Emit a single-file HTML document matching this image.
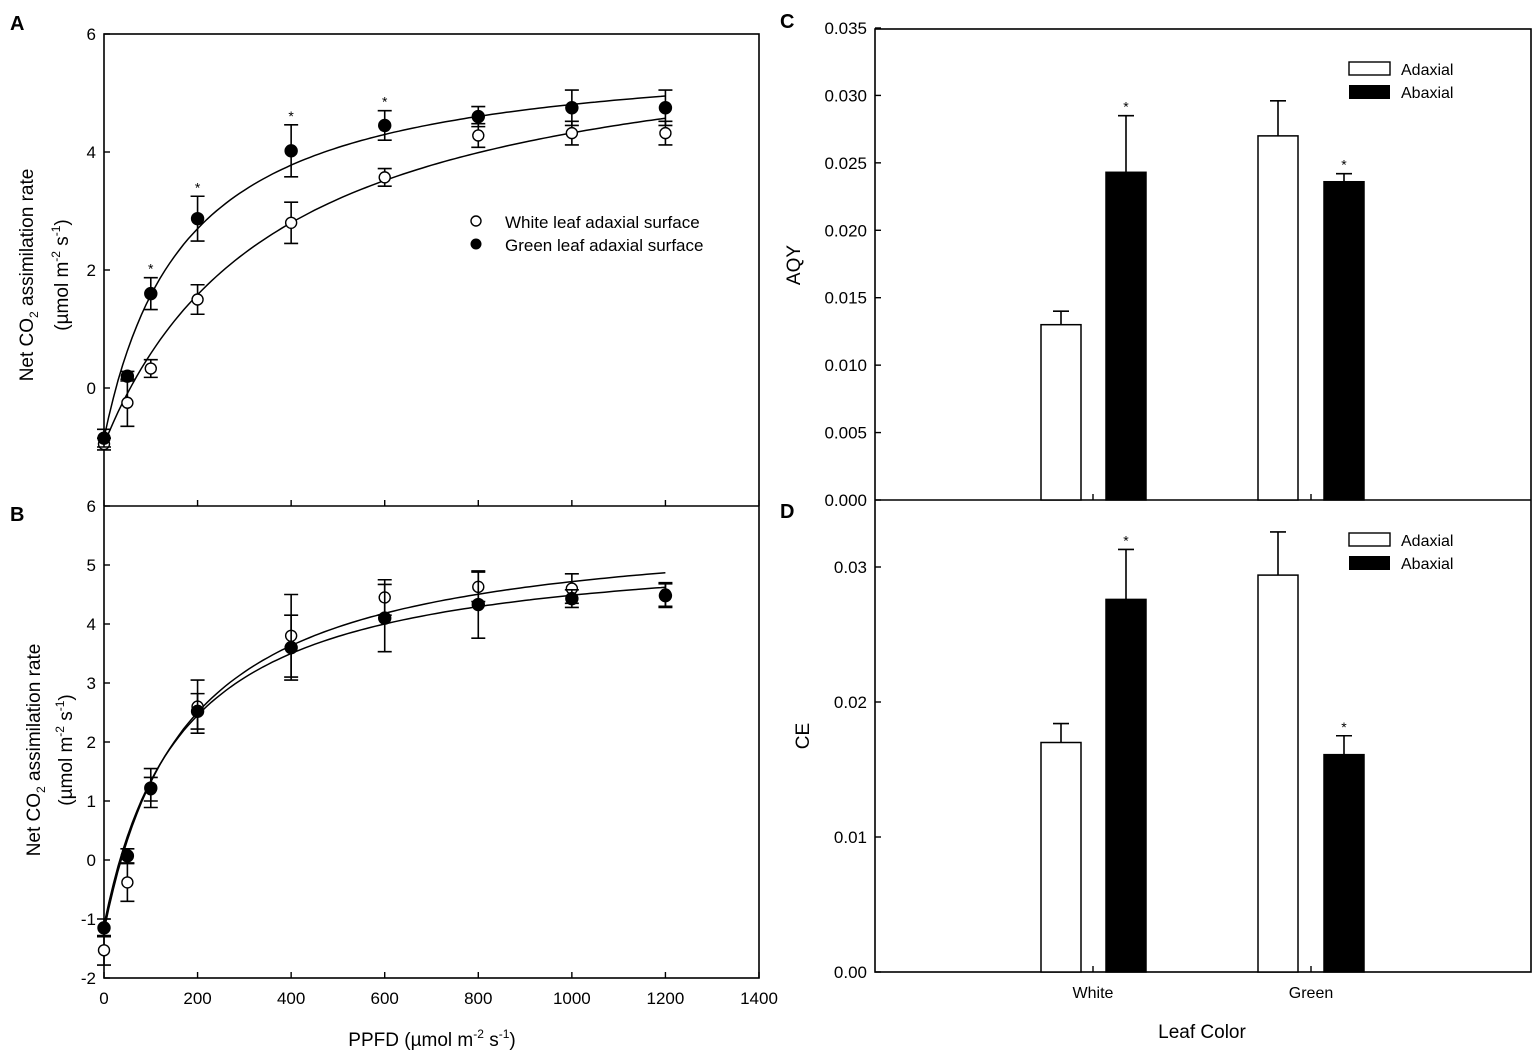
<!DOCTYPE html>
<html><head><meta charset="utf-8"><style>
html,body{margin:0;padding:0;background:#fff}
svg{display:block}
text{font-family:"Liberation Sans",Arial,sans-serif;fill:#000}
</style></head><body>
<svg id="s" width="1535" height="1054" viewBox="0 0 1535 1054" xmlns="http://www.w3.org/2000/svg">
<rect width="1535" height="1054" fill="#fff"/>
<g stroke="#000" stroke-width="1.6" fill="none">
<rect x="104" y="34" width="655" height="944"/>
<line x1="104" y1="506" x2="759" y2="506"/>
<rect x="875" y="29" width="656" height="943"/>
<line x1="875" y1="500" x2="1531" y2="500"/>
</g>
<g font-weight="bold" font-size="20">
<text x="10" y="30">A</text><text x="10" y="521">B</text>
<text x="780" y="28">C</text><text x="780" y="518">D</text>
</g>
<g id="dyn"></g>
<text transform="translate(33,275) rotate(-90)" font-size="19" text-anchor="middle">Net CO<tspan font-size="12" dy="5">2</tspan><tspan dy="-5"> assimilation rate</tspan></text>
<text transform="translate(68,275) rotate(-90)" font-size="19" text-anchor="middle">(µmol m<tspan font-size="12" dy="-8">-2</tspan><tspan dy="8"> s</tspan><tspan font-size="12" dy="-8">-1</tspan><tspan dy="8">)</tspan></text>
<text transform="translate(40,750) rotate(-90)" font-size="19" text-anchor="middle">Net CO<tspan font-size="12" dy="5">2</tspan><tspan dy="-5"> assimilation rate</tspan></text>
<text transform="translate(72,750) rotate(-90)" font-size="19" text-anchor="middle">(µmol m<tspan font-size="12" dy="-8">-2</tspan><tspan dy="8"> s</tspan><tspan font-size="12" dy="-8">-1</tspan><tspan dy="8">)</tspan></text>
<text x="432" y="1046" font-size="19" text-anchor="middle">PPFD (µmol m<tspan font-size="12" dy="-8">-2</tspan><tspan dy="8"> s</tspan><tspan font-size="12" dy="-8">-1</tspan><tspan dy="8">)</tspan></text>
<text transform="translate(800,265) rotate(-90)" font-size="19" text-anchor="middle">AQY</text>
<text transform="translate(809,736) rotate(-90)" font-size="19" text-anchor="middle">CE</text>
<text x="1202" y="1038" font-size="19" text-anchor="middle">Leaf Color</text>
<text x="1093" y="998" font-size="16" text-anchor="middle">White</text>
<text x="1311" y="998" font-size="16" text-anchor="middle">Green</text>
<circle cx="476" cy="221" r="5" fill="#fff" stroke="#000" stroke-width="1.4"/>
<circle cx="476" cy="244" r="5.5" fill="#000"/>
<text x="505" y="228" font-size="17">White leaf adaxial surface</text>
<text x="505" y="251" font-size="17">Green leaf adaxial surface</text>
<rect x="1349" y="62" width="41" height="13" fill="#fff" stroke="#000" stroke-width="1.4"/>
<rect x="1349" y="85" width="41" height="14" fill="#000"/>
<text x="1401" y="75" font-size="16">Adaxial</text><text x="1401" y="98" font-size="16">Abaxial</text>
<rect x="1349" y="533" width="41" height="13" fill="#fff" stroke="#000" stroke-width="1.4"/>
<rect x="1349" y="556" width="41" height="14" fill="#000"/>
<text x="1401" y="546" font-size="16">Adaxial</text><text x="1401" y="569" font-size="16">Abaxial</text>
</svg>
<script>
var g=document.getElementById('dyn'),NS='http://www.w3.org/2000/svg';
function el(t,a,txt){var e=document.createElementNS(NS,t);for(var k in a)e.setAttribute(k,a[k]);if(txt!=null)e.textContent=txt;g.appendChild(e);return e;}
function X(v){return 104+v*655/1400;}
function YA(v){return 388-v*59;}
function YB(v){return 860-v*59;}
[6,4,2,0].forEach(function(v){var y=YA(v);el('line',{x1:104,y1:y,x2:110,y2:y,stroke:'#000','stroke-width':1.4});el('text',{x:96,y:y+6,'font-size':17,'text-anchor':'end'},v);});
[6,5,4,3,2,1,0,-1,-2].forEach(function(v){var y=YB(v);el('line',{x1:104,y1:y,x2:110,y2:y,stroke:'#000','stroke-width':1.4});el('text',{x:96,y:y+6,'font-size':17,'text-anchor':'end'},v);});
[0,200,400,600,800,1000,1200,1400].forEach(function(v){var x=X(v);el('line',{x1:x,y1:978,x2:x,y2:972,stroke:'#000','stroke-width':1.4});el('line',{x1:x,y1:506,x2:x,y2:500,stroke:'#000','stroke-width':1.4});el('text',{x:x,y:1004,'font-size':17,'text-anchor':'middle'},v);});
function curve(P,K,R,Y){var d='';for(var v=0;v<=1200;v+=10){var y=P*v/(v+K)-R;d+=(v?'L':'M')+X(v).toFixed(1)+','+Y(y).toFixed(1);}el('path',{d:d,fill:'none',stroke:'#000','stroke-width':1.5});}
curve(7.23,371,0.95,YA);curve(6.64,174,0.85,YA);curve(6.96,176,1.2,YB);curve(6.52,167,1.1,YB);
var xs=[0,50,100,200,400,600,800,1000,1200];
function pts(d,Y,filled){d.forEach(function(p,i){var x=X(xs[i]),y=Y(p[0]),t=Y(p[0]+p[1]),b=Y(p[0]-p[1]);el('path',{d:'M'+x+','+t+'V'+b+'M'+(x-7)+','+t+'h14M'+(x-7)+','+b+'h14',stroke:'#000','stroke-width':1.6,fill:'none'});el('circle',{cx:x,cy:y,r:filled?6:5.5,fill:filled?'#000':'#fff',stroke:'#000','stroke-width':1.4});});}
pts([[-0.95,0.1],[-0.25,0.4],[0.33,0.15],[1.5,0.25],[2.8,0.35],[3.57,0.15],[4.28,0.2],[4.32,0.2],[4.32,0.2]],YA,false);
pts([[-0.85,0.15],[0.2,0.08],[1.6,0.27],[2.87,0.38],[4.02,0.44],[4.45,0.25],[4.6,0.17],[4.75,0.3],[4.75,0.3]],YA,true);
pts([[-1.53,0.25],[-0.38,0.32],[1.2,0.2],[2.6,0.45],[3.8,0.7],[4.45,0.3],[4.63,0.25],[4.6,0.25],[4.5,0.2]],YB,false);
pts([[-1.15,0.15],[0.07,0.12],[1.22,0.33],[2.52,0.3],[3.6,0.55],[4.1,0.57],[4.33,0.57],[4.43,0.15],[4.48,0.2]],YB,true);
[[100,1.87],[200,3.25],[400,4.46],[600,4.7]].forEach(function(p){el('text',{x:X(p[0]),y:YA(p[1])-4,'font-size':14,'text-anchor':'middle'},'*');});
function YC(v){return 500-v*13486;} function YD(v){return 972-v*13500;}
['0.035','0.030','0.025','0.020','0.015','0.010','0.005','0.000'].forEach(function(s){var y=YC(+s);el('line',{x1:875,y1:y,x2:881,y2:y,stroke:'#000','stroke-width':1.4});el('text',{x:867,y:y+6,'font-size':17,'text-anchor':'end'},s);});
['0.03','0.02','0.01','0.00'].forEach(function(s){var y=YD(+s);el('line',{x1:875,y1:y,x2:881,y2:y,stroke:'#000','stroke-width':1.4});el('text',{x:867,y:y+6,'font-size':17,'text-anchor':'end'},s);});
[1093,1311].forEach(function(x){el('line',{x1:x,y1:500,x2:x,y2:494,stroke:'#000','stroke-width':1.4});el('line',{x1:x,y1:972,x2:x,y2:966,stroke:'#000','stroke-width':1.4});});
var bx=[1041,1106,1258,1324];
function bars(vals,Y,base,stars){vals.forEach(function(p,i){var x=bx[i],cx=x+20,t=Y(p[0]),e=Y(p[0]+p[1]);el('path',{d:'M'+cx+','+t+'V'+e+'M'+(cx-8)+','+e+'h16',stroke:'#000','stroke-width':1.6,fill:'none'});el('rect',{x:x,y:t,width:40,height:base-t,fill:i%2?'#000':'#fff',stroke:'#000','stroke-width':1.5});if(stars[i])el('text',{x:cx,y:e-4,'font-size':14,'text-anchor':'middle'},'*');});}
bars([[0.013,0.001],[0.0243,0.0042],[0.027,0.0026],[0.0236,0.0006]],YC,500,[0,1,0,1]);
bars([[0.017,0.0014],[0.0276,0.0037],[0.0294,0.0032],[0.0161,0.0014]],YD,972,[0,1,0,1]);
</script>
</body></html>
